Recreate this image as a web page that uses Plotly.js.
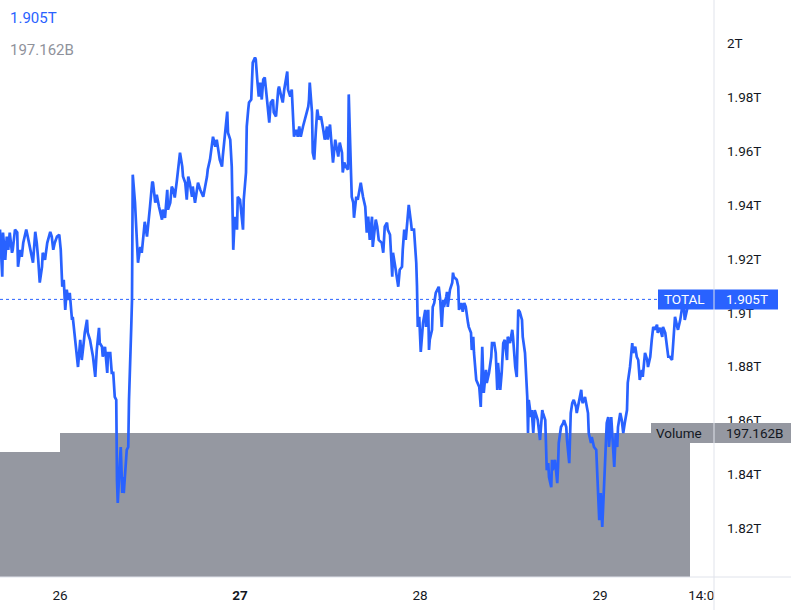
<!DOCTYPE html>
<html><head><meta charset="utf-8">
<script src="https://cdn.plot.ly/plotly-3.0.1.min.js"></script>
<style>html,body{margin:0;padding:0;background:#fff;}#chart{width:791px;height:610px;}</style>
</head><body><div id="chart"></div>
<script>
// Time of each sample, in hours after 25 Apr 00:00
const hours = [
16.0,16.3,16.4,16.7,16.9,17.1,17.3,17.6,17.7,18.0,
18.3,18.4,18.7,18.9,19.1,19.5,19.7,20.1,20.4,20.7,
20.9,21.1,21.3,21.6,21.7,22.0,22.3,22.7,22.9,23.1,
23.3,23.6,23.9,24.1,24.3,24.5,24.7,24.9,25.1,25.3,
25.6,25.7,26.0,26.3,26.4,26.7,26.9,27.1,27.3,27.6,
27.7,28.0,28.3,28.4,28.7,28.9,29.2,29.3,29.6,29.7,
30.0,30.3,30.4,30.7,30.9,31.1,31.3,31.5,31.6,31.7,
32.0,32.1,32.3,32.4,32.5,32.8,32.9,33.1,33.2,33.5,
33.6,33.7,34.0,34.4,34.7,34.9,35.1,35.3,35.6,35.7,
36.0,36.3,36.4,36.7,36.9,37.2,37.6,37.7,38.0,38.3,
38.4,38.7,38.9,39.1,39.3,39.6,39.7,40.0,40.3,40.4,
40.7,40.9,41.1,41.3,41.6,41.7,42.0,42.3,42.4,42.7,
43.1,43.6,43.7,44.0,44.4,44.7,44.9,45.3,45.6,45.7,
46.0,46.3,46.4,46.7,46.9,47.1,47.3,47.6,47.7,48.0,
48.4,48.5,48.8,48.9,49.1,49.2,49.5,49.6,49.7,50.0,
50.1,50.3,50.5,50.7,50.9,51.1,51.3,51.6,51.7,51.9,
52.1,52.4,52.5,52.8,53.1,53.2,53.5,53.7,53.9,54.3,
54.4,54.7,54.9,55.1,55.2,55.5,55.7,55.9,56.1,56.4,
56.7,56.9,57.1,57.2,57.3,57.6,57.7,57.9,58.1,58.3,
58.5,58.8,59.1,59.3,59.6,59.7,60.0,60.3,60.4,60.7,
60.9,61.1,61.3,61.6,61.7,61.9,62.1,62.4,62.5,62.7,
62.8,62.9,63.1,63.2,63.5,63.7,63.9,64.1,64.4,64.7,
64.9,65.1,65.3,65.6,65.7,66.1,66.3,66.5,66.9,67.1,
67.3,67.6,67.7,68.0,68.3,68.4,68.7,68.9,69.1,69.3,
69.6,69.7,69.9,70.1,70.3,70.4,70.5,70.8,70.9,71.2,
71.5,71.6,71.7,71.9,72.1,72.3,72.4,72.7,72.8,73.1,
73.2,73.3,73.6,73.7,73.9,74.1,74.3,74.5,74.7,74.9,
75.1,75.2,75.5,75.6,75.7,76.0,76.3,76.4,76.5,76.8,
76.9,77.1,77.2,77.5,77.7,77.9,78.1,78.4,78.5,78.8,
78.9,79.1,79.2,79.5,79.7,79.9,80.1,80.3,80.5,80.8,
80.9,81.2,81.5,81.6,81.9,82.1,82.3,82.4,82.7,82.9,
83.1,83.3,83.6,83.7,84.0,84.3,84.4,84.7,84.9,85.1,
85.3,85.6,85.7,86.0,86.3,86.4,86.5,86.8,86.9,87.1,
87.3,87.6,87.7,88.0,88.3,88.4,88.7,88.9,89.1,89.2,
89.5,89.6,89.7,90.0,90.3,90.4,90.5,90.8,91.1,91.2,
91.5,91.6,91.9,92.1,92.3,92.5,92.8,92.9,93.2,93.5,
93.6,93.7,94.0,94.3,94.4,94.5,94.8,94.9,95.2,95.5,
95.6,95.9,96.1,96.3,96.5,96.7,96.9,97.1,97.2,97.5,
97.7,97.9,98.1,98.3,98.4,98.7,98.9,99.1,99.3,99.6,
99.7,100.0,100.3,100.4,100.7,100.9,101.1,101.3,101.6,101.7,
102.0,102.3,102.4,102.7,102.9,103.1,103.3,103.6,103.7,104.0,
104.3,104.4,104.7,104.9,105.1,105.3,105.6,105.7,106.0,106.3,
106.4,106.7,106.9,107.1,107.3,107.6,107.7,108.0
];
// TOTAL crypto market cap, trillions USD
const totalT = [
1.9309,1.9134,1.9298,1.9197,1.9283,1.9234,1.9298,1.9223,1.9234,1.9309,
1.9298,1.9171,1.9234,1.9208,1.9260,1.9309,1.9283,1.9234,1.9186,1.9301,
1.9260,1.9197,1.9112,1.9171,1.9223,1.9197,1.9260,1.9301,1.9283,1.9234,
1.9260,1.9283,1.9290,1.9234,1.9097,1.9123,1.9011,1.9086,1.9048,1.9074,
1.8974,1.8985,1.8911,1.8814,1.8799,1.8900,1.8825,1.8874,1.8926,1.8974,
1.8926,1.8900,1.8862,1.8837,1.8762,1.8862,1.8944,1.8888,1.8874,1.8837,
1.8874,1.8777,1.8851,1.8851,1.8777,1.8777,1.8688,1.8677,1.8379,1.8294,
1.8454,1.8502,1.8331,1.8390,1.8331,1.8428,1.8491,1.8502,1.8677,1.8948,
1.9048,1.9513,1.9409,1.9186,1.9245,1.9223,1.9283,1.9338,1.9283,1.9320,
1.9394,1.9487,1.9483,1.9409,1.9438,1.9394,1.9346,1.9383,1.9353,1.9457,
1.9383,1.9409,1.9469,1.9457,1.9428,1.9495,1.9521,1.9595,1.9543,1.9506,
1.9483,1.9420,1.9506,1.9483,1.9431,1.9469,1.9409,1.9483,1.9483,1.9457,
1.9431,1.9506,1.9532,1.9569,1.9654,1.9617,1.9643,1.9569,1.9543,1.9580,
1.9654,1.9747,1.9669,1.9643,1.9543,1.9234,1.9357,1.9309,1.9431,1.9420,
1.9309,1.9420,1.9521,1.9692,1.9755,1.9781,1.9792,1.9929,1.9929,1.9948,
1.9941,1.9866,1.9803,1.9855,1.9792,1.9866,1.9874,1.9792,1.9755,1.9706,
1.9781,1.9792,1.9744,1.9729,1.9829,1.9840,1.9803,1.9781,1.9829,1.9896,
1.9829,1.9803,1.9829,1.9680,1.9654,1.9680,1.9654,1.9692,1.9654,1.9692,
1.9718,1.9744,1.9766,1.9792,1.9855,1.9744,1.9595,1.9569,1.9669,1.9755,
1.9718,1.9729,1.9680,1.9643,1.9692,1.9643,1.9699,1.9595,1.9558,1.9643,
1.9606,1.9580,1.9632,1.9595,1.9521,1.9558,1.9543,1.9532,1.9811,1.9524,
1.9521,1.9431,1.9409,1.9353,1.9431,1.9420,1.9446,1.9483,1.9431,1.9394,
1.9298,1.9357,1.9271,1.9357,1.9245,1.9346,1.9320,1.9271,1.9260,1.9223,
1.9320,1.9335,1.9309,1.9290,1.9134,1.9223,1.9171,1.9123,1.9097,1.9160,
1.9171,1.9234,1.9309,1.9271,1.9335,1.9394,1.9401,1.9335,1.9309,1.9309,
1.9186,1.9097,1.8948,1.8985,1.8855,1.8926,1.8963,1.9011,1.8948,1.9011,
1.8862,1.8900,1.8937,1.9022,1.9037,1.9074,1.9086,1.9097,1.9048,1.8948,
1.9048,1.9022,1.9060,1.9078,1.9022,1.9086,1.9112,1.9149,1.9134,1.9123,
1.9123,1.9097,1.9011,1.9037,1.9004,1.9037,1.9022,1.8963,1.8948,1.8926,
1.8862,1.8911,1.8851,1.8751,1.8740,1.8725,1.8651,1.8874,1.8703,1.8788,
1.8740,1.8777,1.8837,1.8888,1.8888,1.8851,1.8714,1.8814,1.8714,1.8781,
1.8888,1.8900,1.8825,1.8911,1.8888,1.8937,1.8911,1.8799,1.8762,1.9011,
1.9004,1.8974,1.8911,1.8851,1.8688,1.8554,1.8677,1.8613,1.8639,1.8554,
1.8639,1.8613,1.8602,1.8528,1.8639,1.8628,1.8602,1.8416,1.8442,1.8390,
1.8353,1.8454,1.8416,1.8454,1.8368,1.8428,1.8517,1.8576,1.8591,1.8602,
1.8576,1.8528,1.8442,1.8628,1.8665,1.8677,1.8651,1.8628,1.8677,1.8714,
1.8677,1.8665,1.8688,1.8628,1.8628,1.8554,1.8517,1.8539,1.8502,1.8491,
1.8428,1.8230,1.8331,1.8205,1.8331,1.8454,1.8591,1.8613,1.8502,1.8613,
1.8491,1.8428,1.8554,1.8502,1.8576,1.8628,1.8602,1.8554,1.8591,1.8639,
1.8740,1.8799,1.8888,1.8851,1.8874,1.8837,1.8825,1.8751,1.8788,1.8762,
1.8851,1.8825,1.8799,1.8837,1.8900,1.8948,1.8937,1.8956,1.8926,1.8944,
1.8911,1.8948,1.8926,1.8888,1.8837,1.8837,1.8825,1.8862,1.8985,1.8948,
1.8937,1.8974,1.9011,1.9048,1.8974,1.9011,1.9037,1.9050
];
// Volume (billions USD), step series
const volHours = [16, 24, 108];
const volumeB = [171.1, 197.162, 197.162];

const xTickHours = [24, 48, 72, 96, 110];
const xTickText = ['26', '<b>27</b>', '28', '29', '14:00'];
const yTickVals = [1.82, 1.84, 1.86, 1.88, 1.90, 1.92, 1.94, 1.96, 1.98, 2.00];
const yTickText = ['1.82T', '1.84T', '1.86T', '1.88T', '1.9T', '1.92T', '1.94T', '1.96T', '1.98T', '2T'];
const lastTotal = 1.905, lastTotalLabel = '1.905T';
const lastVolume = 197.162, lastVolumeLabel = '197.162B';

const base = Date.UTC(2022, 3, 25);
function toDate(h) { return new Date(base + Math.round(h * 3600000)).toISOString().slice(0, 19).replace('T', ' '); }

const PW = 714, PH = 577;
const px = v => v / PW;
const FONT = 'Roboto, "Liberation Sans", sans-serif';
const BLUE = '#2962FF', GRAY = '#9598A1', TXT = '#131722', LINEC = '#E0E3EB';
const FS = 13.5;

const traces = [
  { x: volHours.map(toDate), y: volumeB, type: 'scatter', mode: 'lines',
    line: { shape: 'hv', width: 0, color: GRAY }, fill: 'tozeroy', fillcolor: GRAY,
    xaxis: 'x', yaxis: 'y', hoverinfo: 'skip' },
  { x: hours.map(toDate), y: totalT, type: 'scatter', mode: 'lines',
    line: { color: BLUE, width: 2.7 }, xaxis: 'x', yaxis: 'y2', hoverinfo: 'skip' }
];

const layout = {
  width: 791, height: 610,
  margin: { l: 0, r: 77, t: 0, b: 33, pad: 0 },
  paper_bgcolor: '#ffffff', plot_bgcolor: '#ffffff',
  showlegend: false,
  xaxis: { type: 'date', range: [toDate(16), toDate(111.2)],
    tickvals: xTickHours.map(toDate), ticktext: xTickText,
    showgrid: false, zeroline: false, showline: false, ticks: '',
    tickfont: { family: FONT, size: FS, color: TXT }, ticklabelstandoff: 8, fixedrange: true },
  yaxis: { range: [0, 790], visible: false, showgrid: false, zeroline: false, fixedrange: true },
  yaxis2: { overlaying: 'y', side: 'right', range: [1.80193, 2.01615],
    tickvals: yTickVals, ticktext: yTickText,
    showgrid: false, zeroline: false, showline: false, ticks: '',
    tickfont: { family: FONT, size: FS, color: TXT }, ticklabelstandoff: 12, fixedrange: true },
  shapes: [
    { type: 'line', xref: 'paper', yref: 'y2', x0: 0, x1: px(657), y0: lastTotal, y1: lastTotal,
      line: { color: BLUE, width: 1, dash: 'dot' } },
    { type: 'rect', xref: 'paper', yref: 'y2', ysizemode: 'pixel', yanchor: lastTotal, y0: -10, y1: 10,
      x0: px(658), x1: px(778), fillcolor: BLUE, line: { width: 0 } },
    { type: 'rect', xref: 'paper', yref: 'y', ysizemode: 'pixel', yanchor: lastVolume, y0: -10, y1: 10,
      x0: px(651), x1: px(791), fillcolor: GRAY, line: { width: 0 } },
    { type: 'rect', xref: 'paper', yref: 'paper', x0: 1, x1: px(795), y0: -40 / PH, y1: -0.6 / PH,
      fillcolor: '#ffffff', line: { width: 0 } },
    { type: 'line', xref: 'paper', yref: 'paper', x0: 1, x1: 1, y0: -40 / PH, y1: 1,
      line: { color: LINEC, width: 1 } },
    { type: 'line', xref: 'paper', yref: 'paper', x0: 0, x1: px(795), y0: 0, y1: 0,
      line: { color: LINEC, width: 1 } }
  ],
  annotations: [
    { text: 'TOTAL', xref: 'paper', yref: 'y2', x: px(662), y: lastTotal, xanchor: 'left', yanchor: 'middle',
      showarrow: false, font: { family: FONT, size: FS, color: '#ffffff' } },
    { text: lastTotalLabel, xref: 'paper', yref: 'y2', x: px(724), y: lastTotal, xanchor: 'left', yanchor: 'middle',
      showarrow: false, font: { family: FONT, size: FS, color: '#ffffff' } },
    { text: 'Volume', xref: 'paper', yref: 'y', x: px(654), y: lastVolume, yshift: 0, xanchor: 'left', yanchor: 'middle',
      showarrow: false, font: { family: FONT, size: FS, color: TXT } },
    { text: lastVolumeLabel, xref: 'paper', yref: 'y', x: px(724), y: lastVolume, yshift: 0, xanchor: 'left', yanchor: 'middle',
      showarrow: false, font: { family: FONT, size: FS, color: TXT } },
    { text: lastTotalLabel, xref: 'paper', yref: 'paper', x: px(8), y: 1 - 18 / PH, xanchor: 'left', yanchor: 'middle',
      showarrow: false, font: { family: FONT, size: 15, color: BLUE } },
    { text: lastVolumeLabel, xref: 'paper', yref: 'paper', x: px(8), y: 1 - 50 / PH, xanchor: 'left', yanchor: 'middle',
      showarrow: false, font: { family: FONT, size: 15, color: '#8F929B' } }
  ]
};

Plotly.newPlot('chart', traces, layout, { staticPlot: true, displayModeBar: false });
</script>
</body></html>
